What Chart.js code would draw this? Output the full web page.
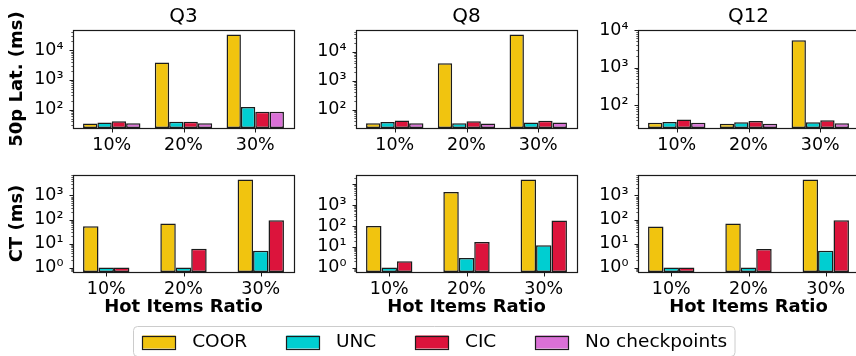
<!DOCTYPE html>
<html>
<head>
<meta charset="utf-8">
<script src="https://cdn.jsdelivr.net/npm/chart.js@4.4.1/dist/chart.umd.min.js"></script>
<style>
  html, body { margin: 0; padding: 0; background: #fff; width: 856px; height: 356px; overflow: hidden; position: relative; }
  .panel { position: absolute; }
</style>
</head>
<body>
<div class="panel" style="left:0px;top:0px;width:304px;height:152px"><canvas id="lat0"></canvas></div>
<div class="panel" style="left:283px;top:0px;width:304px;height:152px"><canvas id="lat1"></canvas></div>
<div class="panel" style="left:565px;top:0px;width:304px;height:152px"><canvas id="lat2"></canvas></div>
<div class="panel" style="left:0px;top:150px;width:304px;height:180px"><canvas id="ct0"></canvas></div>
<div class="panel" style="left:283px;top:150px;width:304px;height:180px"><canvas id="ct1"></canvas></div>
<div class="panel" style="left:565px;top:150px;width:304px;height:180px"><canvas id="ct2"></canvas></div>
<div class="panel" style="left:0px;top:320px;width:856px;height:36px"><canvas id="legend"></canvas></div>
<script>
// ---- data ----
const categories = ['10%', '20%', '30%'];
const seriesNames = ['COOR', 'UNC', 'CIC', 'No checkpoints'];
const seriesColors = ['#F1C40F', '#00CED1', '#DC143C', '#DA70D6'];
const queries = ['Q3', 'Q8', 'Q12'];

// 50th percentile latency (ms); rows: COOR, UNC, CIC, No checkpoints
const latQ3  = [[34, 3900, 34000], [37, 39, 122], [41, 39, 85], [35, 35, 85]];
const latQ8  = [[34, 4000, 40000], [37, 34, 36], [42, 40, 41], [34, 33, 36]];
const latQ12 = [[34, 32, 5300],   [36, 35, 35],  [42, 38, 40], [34, 32, 33]];

// checkpoint time (ms); rows: COOR, UNC, CIC
const ctQ3  = [[53, 68, 4650],    [1, 1, 5],      [1, 6.1, 93]];
const ctQ8  = [[99, 4300, 17500], [1, 2.9, 11.8], [2, 17, 185]];
const ctQ12 = [[51, 68, 4650],    [1, 1, 5],      [1, 5.9, 93]];

// labelled decades on the y axes
const latTicks = [100, 1000, 10000];
const ctTicks = [1, 10, 100, 1000];

// ---- helpers ----
Chart.defaults.font.family = '"DejaVu Sans", sans-serif';
Chart.defaults.color = '#000';

const SUP = '⁰¹²³⁴⁵⁶⁷⁸⁹';
function pow10Label(v) {
  const e = Math.round(Math.log10(v));
  return '10' + String(e).split('').map(d => d === '-' ? '⁻' : SUP[+d]).join('');
}

// log-space autoscale with 5% margins
function logLimits(series) {
  const vals = series.flat().filter(v => v > 0);
  const lo = Math.log10(Math.min(...vals)), hi = Math.log10(Math.max(...vals));
  const m = (hi - lo) * 0.05;
  return [Math.pow(10, lo - m), Math.pow(10, hi + m)];
}

// major + minor log ticks within [min, max]
function logTicks(min, max) {
  const out = [];
  for (let e = Math.floor(Math.log10(min)); e <= Math.ceil(Math.log10(max)); e++) {
    for (let m = 1; m < 10; m++) {
      const v = Number((m * Math.pow(10, e)).toPrecision(10));
      if (v >= min && v <= max) out.push({ value: v, major: m === 1 });
    }
  }
  return out;
}

// box around the plot area plus outward tick marks
const axesFrame = {
  id: 'axesFrame',
  afterDatasetsDraw(chart) {
    const { ctx, chartArea: a, scales: { x, y } } = chart;
    ctx.save();
    ctx.strokeStyle = '#1a1a1a';
    const L = Math.round(a.left) + 0.5, B = Math.round(a.bottom) + 0.5;
    y.ticks.forEach(t => {
      const py = Math.round(y.getPixelForValue(t.value)) + 0.5;
      const len = t.major ? 4 : 2.2;
      ctx.lineWidth = t.major ? 1 : 0.7;
      ctx.beginPath(); ctx.moveTo(L - len, py); ctx.lineTo(L, py); ctx.stroke();
    });
    ctx.lineWidth = 1;
    x.ticks.forEach(t => {
      const px = Math.round(x.getPixelForValue(t.value)) + 0.5;
      ctx.beginPath(); ctx.moveTo(px, B); ctx.lineTo(px, B + 4); ctx.stroke();
    });
    ctx.lineWidth = 1.2;
    ctx.strokeRect(L, Math.round(a.top) + 0.5, Math.round(a.right) - Math.round(a.left), Math.round(a.bottom) - Math.round(a.top));
    ctx.restore();
  }
};

function buildPanel(id, cfg) {
  const n = cfg.series.length;
  const datasets = cfg.series.map((vals, i) => ({
    label: seriesNames[i],
    data: vals.map((v, j) => ({ x: j, y: v })),
    backgroundColor: seriesColors[i],
    borderColor: '#1c1c1c',
    borderWidth: 1.5,
    borderSkipped: false,
    categoryPercentage: 0.2 * n,
    barPercentage: 1.0
  }));
  const [yMin, yMaxAuto] = logLimits(cfg.series);
  const yMax = cfg.yMax || yMaxAuto;
  const half = 0.1 * n;
  const xPad = (2 + 2 * half) * 0.05;
  return new Chart(document.getElementById(id), {
    type: 'bar',
    data: { datasets },
    options: {
      responsive: true,
      maintainAspectRatio: false,
      animation: false,
      layout: { padding: { top: cfg.padTop, right: 10, bottom: 0, left: 0 } },
      plugins: {
        legend: { display: false },
        tooltip: { enabled: false },
        title: {
          display: !!cfg.title, text: cfg.title, fullSize: false,
          font: { size: 20, weight: 'normal' }, color: '#000',
          padding: { top: 5, bottom: 1 }
        }
      },
      scales: {
        x: {
          type: 'linear', bounds: 'data', offset: false,
          min: -half - xPad, max: 2 + half + xPad,
          grid: { display: false, drawTicks: false, tickLength: 0 },
          border: { display: false },
          afterBuildTicks: s => { s.ticks = categories.map((_, i) => ({ value: i })); },
          ticks: { callback: v => categories[v], padding: 7, font: { size: 17.5 }, color: '#000', maxRotation: 0, autoSkip: false },
          title: {
            display: !!cfg.xTitle, text: cfg.xTitle || '',
            font: { size: 18, weight: 'bold' }, color: '#000',
            padding: { top: 0, bottom: 12 }
          },
          afterFit: s => { s.height = cfg.xAxisHeight; }
        },
        y: {
          type: 'logarithmic', bounds: 'data', min: yMin, max: yMax,
          grid: { display: false, drawTicks: false, tickLength: 0 },
          border: { display: false },
          afterBuildTicks: s => { s.ticks = logTicks(s.min, s.max); },
          ticks: {
            callback: v => cfg.yTicks.includes(v) ? pow10Label(v) : '',
            padding: 9.5, font: { size: 17.5 }, color: '#000', autoSkip: false
          },
          title: {
            display: !!cfg.yTitle, text: cfg.yTitle || '',
            font: { size: 18, weight: 'bold' }, color: '#000',
            padding: { top: 6.7, bottom: 0 }
          },
          afterFit: s => { s.width = 73; }
        }
      }
    },
    plugins: [axesFrame]
  });
}

const latSeries = [latQ3, latQ8, latQ12];
const ctSeries = [ctQ3, ctQ8, ctQ12];

latSeries.forEach((series, i) => buildPanel('lat' + i, {
  series, title: queries[i], yTitle: i === 0 ? '50p Lat. (ms)' : '',
  yTicks: latTicks, yMax: queries[i] === 'Q12' ? 10000 : null,
  padTop: 0, xAxisHeight: 24
}));

ctSeries.forEach((series, i) => buildPanel('ct' + i, {
  series, title: '', yTitle: i === 0 ? 'CT (ms)' : '', xTitle: 'Hot Items Ratio',
  yTicks: ctTicks, yMax: null,
  padTop: 25, xAxisHeight: 58
}));

// shared legend, laid out with em-based spacing
const boxLegend = {
  id: 'boxLegend',
  afterDraw(chart) {
    const { ctx } = chart;
    const fs = 18.5;
    const font = fs + 'px "DejaVu Sans", sans-serif';
    ctx.save();
    ctx.font = font;
    const items = chart.data.datasets.map(d => ({ label: d.label, color: d.backgroundColor, w: ctx.measureText(d.label).width }));
    const handle = 2 * fs, hpad = 0.8 * fs, colsp = 2 * fs, bpad = 0.4 * fs;
    const totalW = 2 * bpad + items.reduce((s, it) => s + handle + hpad + it.w, 0) + colsp * (items.length - 1);
    const left = 133, top = 6, h = 30, cy = 22;
    ctx.fillStyle = 'rgba(255,255,255,0.8)';
    ctx.strokeStyle = '#cccccc';
    ctx.lineWidth = 1;
    ctx.beginPath();
    ctx.roundRect(left + 0.5, top + 0.5, totalW, h, 4);
    ctx.fill(); ctx.stroke();
    let x = left + bpad;
    items.forEach(it => {
      const px = Math.round(x + 2) + 0.5, pw = Math.round(handle - 4);
      ctx.fillStyle = it.color;
      ctx.fillRect(px, cy - 6.5, pw, 13);
      ctx.strokeStyle = '#1c1c1c';
      ctx.lineWidth = 1.2;
      ctx.strokeRect(px, Math.round(cy - 6.5) + 0.5, pw, 13);
      x += handle + hpad;
      ctx.fillStyle = '#000';
      ctx.textBaseline = 'middle';
      ctx.textAlign = 'left';
      ctx.fillText(it.label, x, cy);
      x += it.w + colsp;
    });
    ctx.restore();
  }
};

new Chart(document.getElementById('legend'), {
  type: 'bar',
  data: { labels: [], datasets: seriesNames.map((name, i) => ({ label: name, data: [], backgroundColor: seriesColors[i] })) },
  options: {
    responsive: true, maintainAspectRatio: false, animation: false,
    plugins: { legend: { display: false }, tooltip: { enabled: false } },
    scales: { x: { display: false }, y: { display: false } }
  },
  plugins: [boxLegend]
});
</script>
</body>
</html>
